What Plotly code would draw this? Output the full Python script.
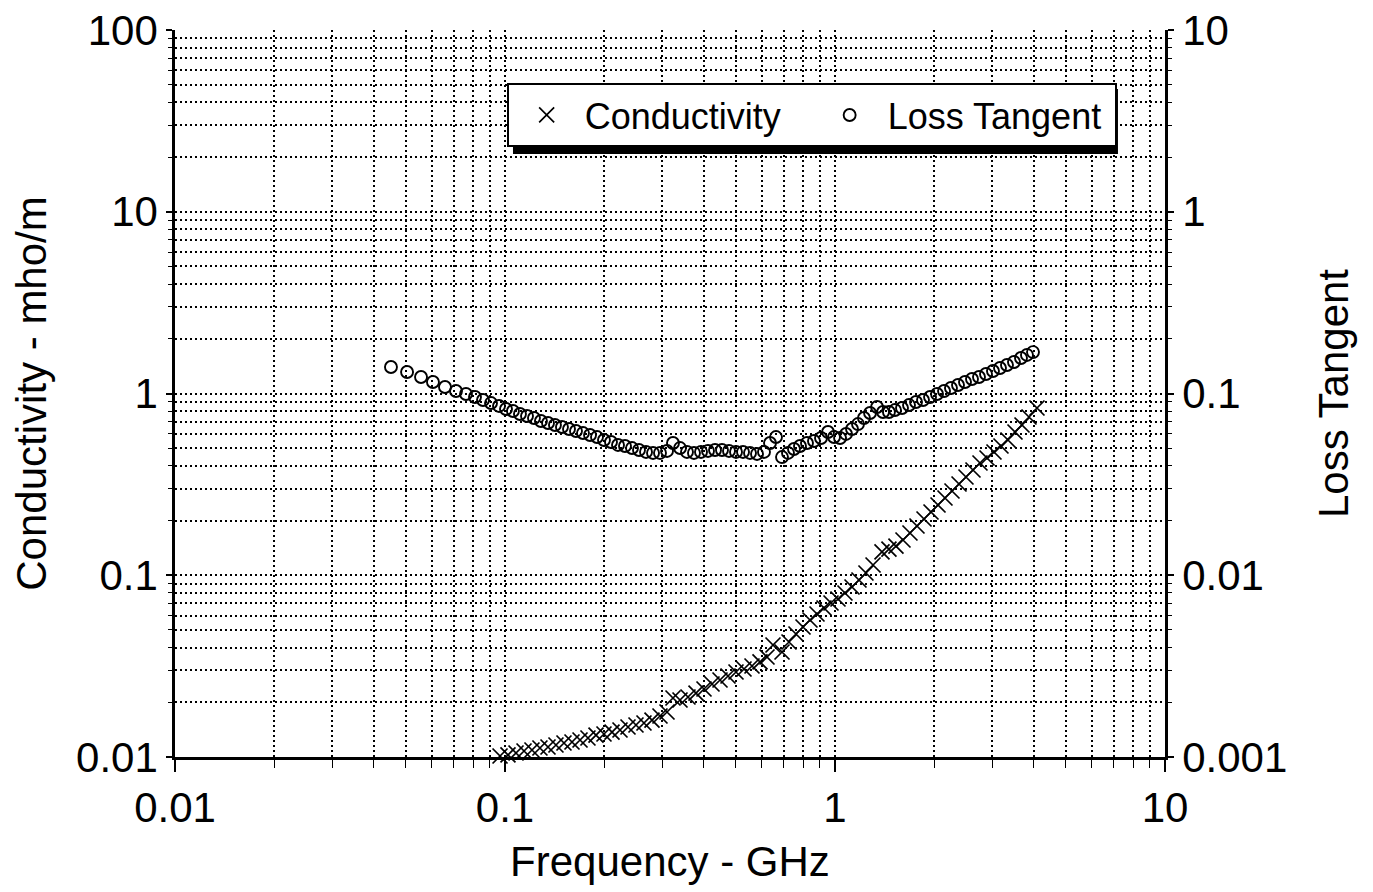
import plotly.graph_objects as go

# ---- data ----
cond_freq = [0.0966, 0.1021, 0.1080, 0.1142, 0.1207, 0.1276, 0.1350, 0.1427, 0.1509, 0.1596,
             0.1688, 0.1784, 0.1887, 0.1995, 0.2110, 0.2231, 0.2359, 0.2494, 0.2637, 0.2789,
             0.2949, 0.3097, 0.3229, 0.3391, 0.3585, 0.3791, 0.4009, 0.4239, 0.4483, 0.4740,
             0.5012, 0.5300, 0.5604, 0.5926, 0.6222, 0.6488, 0.6909, 0.7254, 0.7617, 0.7999,
             0.8398, 0.8819, 0.9261, 0.9725, 1.021, 1.072, 1.126, 1.182, 1.241, 1.304,
             1.388, 1.457, 1.530, 1.607, 1.687, 1.772, 1.861, 1.954, 2.052, 2.154,
             2.262, 2.376, 2.494, 2.619, 2.750, 2.888, 3.032, 3.184, 3.343, 3.511,
             3.687, 3.871, 4.093]
conductivity = [0.01013, 0.01026, 0.01052, 0.01079, 0.01093, 0.01121, 0.01135, 0.01164, 0.01194, 0.01209,
                0.01240, 0.01272, 0.01321, 0.01338, 0.01372, 0.01408, 0.01462, 0.01500, 0.01538, 0.01597,
                0.01681, 0.01768, 0.02112, 0.02059, 0.02139, 0.02249, 0.02366, 0.02522, 0.02653, 0.02791,
                0.02936, 0.03050, 0.03168, 0.03333, 0.03549, 0.04132, 0.03781, 0.04292, 0.04752, 0.05192,
                0.05673, 0.06120, 0.06603, 0.07036, 0.07401, 0.07985, 0.08618, 0.09416, 0.1029, 0.1139,
                0.1343, 0.1394, 0.1448, 0.1563, 0.1708, 0.1866, 0.2039, 0.2228, 0.2435, 0.2661,
                0.2908, 0.3178, 0.3473, 0.3795, 0.4147, 0.4418, 0.4766, 0.5142, 0.5549, 0.6139,
                0.6709, 0.7426, 0.8322]

lt_freq = [0.04513, 0.05049, 0.05566, 0.06049, 0.06579, 0.07104, 0.07617, 0.08111, 0.08577, 0.09070,
           0.09590, 0.1007, 0.1057, 0.1110, 0.1166, 0.1224, 0.1285, 0.1350, 0.1417, 0.1488,
           0.1563, 0.1641, 0.1723, 0.1810, 0.1900, 0.1995, 0.2095, 0.2200, 0.2310, 0.2426,
           0.2547, 0.2675, 0.2809, 0.2949, 0.3097, 0.3229, 0.3391, 0.3560, 0.3738, 0.3926,
           0.4122, 0.4329, 0.4545, 0.4773, 0.5012, 0.5263, 0.5526, 0.5803, 0.6093, 0.6354,
           0.6625, 0.6909, 0.7204, 0.7511, 0.7832, 0.8224, 0.8636, 0.9070, 0.9524, 0.9931,
           1.036, 1.080, 1.126, 1.174, 1.224, 1.277, 1.341, 1.398, 1.457, 1.520,
           1.596, 1.676, 1.760, 1.848, 1.941, 2.038, 2.140, 2.246, 2.359, 2.477,
           2.601, 2.731, 2.868, 3.011, 3.162, 3.320, 3.486, 3.661, 3.817, 3.981]
loss_tangent = [0.1399, 0.1313, 0.1233, 0.1157, 0.1086, 0.1032, 0.0994, 0.0957, 0.0921, 0.0886,
                0.0854, 0.0822, 0.0801, 0.0771, 0.0752, 0.0733, 0.0706, 0.0688, 0.0671, 0.0654,
                0.0638, 0.0622, 0.0606, 0.0591, 0.0576, 0.0555, 0.0541, 0.0521, 0.0514, 0.0501,
                0.0489, 0.0477, 0.0471, 0.0471, 0.0483, 0.0534, 0.0501, 0.0477, 0.0471, 0.0477,
                0.0483, 0.0489, 0.0489, 0.0483, 0.0477, 0.0477, 0.0471, 0.0465, 0.0477, 0.0534,
                0.0576, 0.0447, 0.0471, 0.0495, 0.0514, 0.0534, 0.0548, 0.0569, 0.0614, 0.0576,
                0.0569, 0.0599, 0.0638, 0.0679, 0.0733, 0.0781, 0.0843, 0.0791, 0.0791, 0.0811,
                0.0832, 0.0864, 0.0898, 0.0921, 0.0957, 0.0994, 0.1032, 0.1072, 0.1114, 0.1157,
                0.1202, 0.1233, 0.1280, 0.1330, 0.1381, 0.1435, 0.1491, 0.1568, 0.1630, 0.169]

x_tickvals = [0.01, 0.1, 1, 10]
x_ticktext = ["0.01", "0.1", "1", "10"]
y_tickvals = [0.01, 0.1, 1, 10, 100]
y_ticktext = ["0.01", "0.1", "1", "10", "100"]
y2_tickvals = [0.001, 0.01, 0.1, 1, 10]
y2_ticktext = ["0.001", "0.01", "0.1", "1", "10"]

FONT = "Liberation Sans, Arial, sans-serif"


def minor_vals(lo_exp, hi_exp):
    return [m * 10.0 ** e for e in range(lo_exp, hi_exp) for m in range(2, 10)]


fig = go.Figure()
fig.add_trace(go.Scatter(
    x=cond_freq, y=conductivity, name="Conductivity", mode="markers",
    marker=dict(symbol="x-thin", size=15, line=dict(width=1.7, color="black"), color="black"),
    cliponaxis=False,
))
fig.add_trace(go.Scatter(
    x=lt_freq, y=loss_tangent, name="Loss Tangent", mode="markers", yaxis="y2",
    marker=dict(symbol="circle-open", size=12, line=dict(width=1.9, color="black"), color="black"),
    cliponaxis=False,
))

grid_common = dict(showgrid=True, gridcolor="black", gridwidth=1.6, griddash="2px,3px")

fig.update_layout(
    width=1373, height=892,
    margin=dict(l=167, r=216, t=22, b=143, autoexpand=False),
    paper_bgcolor="white", plot_bgcolor="white",
    font=dict(family=FONT, color="black", size=40),
    showlegend=True,
    legend=dict(
        orientation="h", x=0.335, y=0.927, xanchor="left", yanchor="top",
        bgcolor="white", bordercolor="black", borderwidth=2,
        font=dict(size=36, family=FONT), itemwidth=66,
        entrywidth=222, entrywidthmode="pixels",
        tracegroupgap=0,
    ),
    xaxis=dict(
        type="log", range=[-2, 1], tickvals=x_tickvals, ticktext=x_ticktext,
        tickfont=dict(size=42), ticks="outside", ticklen=12, tickwidth=1.5, tickcolor="black",
        showline=True, linecolor="black", linewidth=2.5, zeroline=False,
        ticklabeloverflow="allow",
        title=dict(text="Frequency - GHz", font=dict(size=42), standoff=17),
        minor=dict(tickvals=minor_vals(-2, 1), ticks="outside", ticklen=8, tickwidth=1.2,
                   tickcolor="black", **grid_common),
        automargin=False,
        **grid_common,
    ),
    yaxis=dict(
        type="log", range=[-2, 2], tickvals=y_tickvals, ticktext=y_ticktext,
        tickfont=dict(size=42), ticks="outside", ticklen=6, tickwidth=1.5, tickcolor="black",
        showline=True, linecolor="black", linewidth=2.5, zeroline=False,
        ticklabeloverflow="allow",
        title=dict(text="Conductivity - mho/m", font=dict(size=42), standoff=18),
        minor=dict(tickvals=minor_vals(-2, 2), ticks="outside", ticklen=4, tickwidth=1.2,
                   tickcolor="black", **grid_common),
        automargin=False,
        **grid_common,
    ),
    yaxis2=dict(
        type="log", range=[-3, 1], overlaying="y", side="right",
        tickvals=y2_tickvals, ticktext=y2_ticktext,
        tickfont=dict(size=42), ticks="outside", ticklen=6, tickwidth=1.5, tickcolor="black",
        showline=True, linecolor="black", linewidth=2.5, zeroline=False, showgrid=False,
        ticklabeloverflow="allow",
        title=dict(text="Loss Tangent", font=dict(size=42), standoff=33),
        minor=dict(tickvals=minor_vals(-3, 1), ticks="outside", ticklen=4, tickwidth=1.2,
                   tickcolor="black"),
        automargin=False,
    ),
    shapes=[dict(type="rect", xref="paper", yref="paper",
                 x0=0.3414, x1=0.9525, y0=0.8295, y1=0.9188,
                 fillcolor="black", line=dict(width=0), layer="above")],
)

fig.write_html("out.html")
